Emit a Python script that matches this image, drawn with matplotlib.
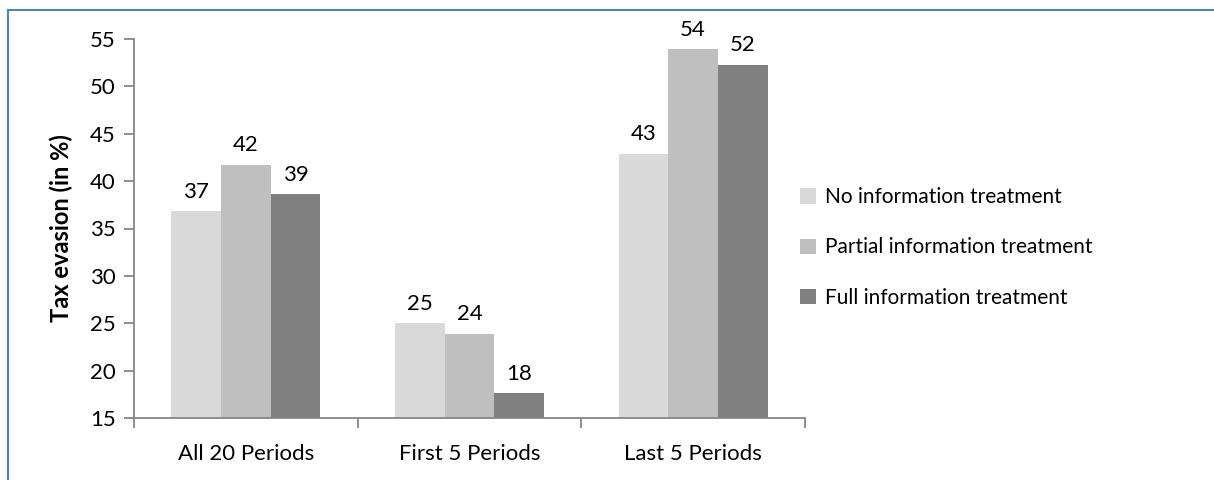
import matplotlib
matplotlib.use("Agg")
import matplotlib.pyplot as plt
import numpy as np

plt.rcParams['font.family'] = ['Lato', 'DejaVu Sans']

categories = ["All 20 Periods", "First 5 Periods", "Last 5 Periods"]
series_names = ["No information treatment", "Partial information treatment", "Full information treatment"]
no_info = [36.8, 25.0, 42.9]
partial_info = [41.7, 23.9, 53.9]
full_info = [38.6, 17.6, 52.3]
labels_no = ["37", "25", "43"]
labels_partial = ["42", "24", "54"]
labels_full = ["39", "18", "52"]

colors = ["#d9d9d9", "#bfbfbf", "#808080"]
axis_col = "#868686"
fs = 16

fig = plt.figure(figsize=(12.14, 4.8), dpi=100)
ax = fig.add_axes([134 / 1214, 1 - 418 / 480, (805 - 134) / 1214, (418 - 39) / 480])

x = np.arange(len(categories))
w = 0.222
all_series = [no_info, partial_info, full_info]
all_labels = [labels_no, labels_partial, labels_full]
for i, (vals, labs) in enumerate(zip(all_series, all_labels)):
    bars = ax.bar(x + (i - 1) * w, np.array(vals) - 15, w, bottom=15,
                  color=colors[i], label=series_names[i], linewidth=0)
    for b, lab in zip(bars, labs):
        ax.annotate(lab, (b.get_x() + b.get_width() / 2, b.get_y() + b.get_height()),
                    xytext=(0, 7), textcoords="offset points",
                    ha="center", va="bottom", fontsize=fs, color="black")

ax.set_xlim(-0.5, 2.5)
ax.set_ylim(15, 55)
ax.set_yticks(range(15, 56, 5))
ax.set_xticks(x)
ax.set_xticklabels(categories, fontsize=fs)
ax.set_xticks([-0.5, 0.5, 1.5, 2.5], minor=True)
ax.tick_params(axis="x", which="major", length=0, pad=19)
ax.tick_params(axis="x", which="minor", length=7, width=1.3, color=axis_col)
ax.tick_params(axis="y", length=7, width=1.3, color=axis_col, labelsize=fs, pad=6)
for s in ["top", "right"]:
    ax.spines[s].set_visible(False)
for s in ["left", "bottom"]:
    ax.spines[s].set_color(axis_col)
    ax.spines[s].set_linewidth(1.3)
ax.set_ylabel("Tax evasion (in %)", fontsize=17, fontweight="bold", labelpad=12)

ax.legend(loc="center left", bbox_to_anchor=(0.965, 0.45), frameon=False,
          fontsize=15, handlelength=0.75, handleheight=0.75, handletextpad=0.45,
          labelspacing=1.45)

# chart area border (top and left visible)
fig.add_artist(plt.Line2D([8 / 1214, 1], [1 - 10 / 480, 1 - 10 / 480],
                          transform=fig.transFigure, color="#4f81bd", linewidth=1.5))
fig.add_artist(plt.Line2D([8 / 1214, 8 / 1214], [0, 1 - 10 / 480],
                          transform=fig.transFigure, color="#4f81bd", linewidth=1.5))

fig.savefig("out.png", dpi=100)
